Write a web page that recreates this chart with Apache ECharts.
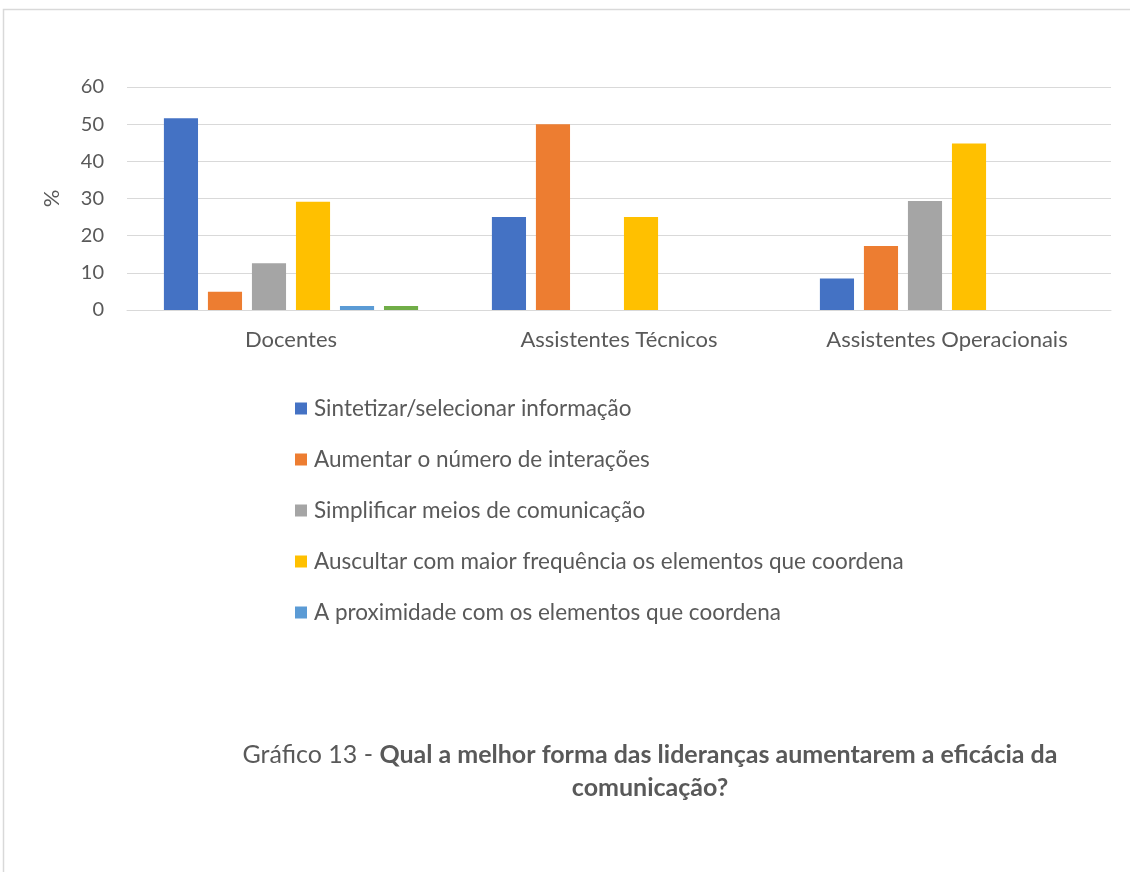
<!DOCTYPE html>
<html>
<head>
<meta charset="utf-8">
<script src="https://cdn.jsdelivr.net/npm/echarts@6/dist/echarts.min.js"></script>
<style>
html,body{margin:0;padding:0;background:#fff;}
#chart{width:1130px;height:872px;}
</style>
</head>
<body>
<div id="chart"></div>
<script>
const categories = ['Docentes', 'Assistentes Técnicos', 'Assistentes Operacionais'];
const seriesNames = [
  'Sintetizar/selecionar informação',
  'Aumentar o número de interações',
  'Simplificar meios de comunicação',
  'Auscultar com maior frequência os elementos que coordena',
  'A proximidade com os elementos que coordena',
  'Outro'
];
const sintetizar = [51.6, 25.0, 8.5];
const aumentar = [4.9, 50.0, 17.2];
const simplificar = [12.6, 0, 29.3];
const auscultar = [29.1, 25.0, 44.8];
const proximidade = [1.1, 0, 0];
const outro = [1.1, 0, 0];
const yTicks = [0, 10, 20, 30, 40, 50, 60];
const colors = ['#4472C4', '#ED7D31', '#A5A5A5', '#FFC000', '#5B9BD5', '#70AD47'];
const values = [sintetizar, aumentar, simplificar, auscultar, proximidade, outro];

const FONT = 'Lato, "Open Sans", sans-serif';
const chart = echarts.init(document.getElementById('chart'));
chart.setOption({
  animation: false,
  color: colors,
  textStyle: { fontFamily: FONT },
  grid: { left: 127, right: 19, top: 87, bottom: 562 },
  xAxis: {
    type: 'category',
    data: categories,
    axisLine: { lineStyle: { color: '#d9d9d9', width: 1 } },
    axisTick: { show: false },
    axisLabel: { color: '#595959', fontSize: 22, margin: 19, fontFamily: FONT }
  },
  yAxis: {
    type: 'value',
    min: yTicks[0], max: yTicks[yTicks.length - 1], interval: 10,
    name: '%', nameLocation: 'middle', nameRotate: 90, nameGap: 64,
    nameTextStyle: { color: '#595959', fontSize: 22, fontFamily: FONT },
    axisLine: { show: false }, axisTick: { show: false },
    axisLabel: { color: '#595959', fontSize: 20, margin: 23, fontFamily: FONT },
    splitLine: { lineStyle: { color: '#d9d9d9', width: 1 } }
  },
  legend: {
    data: seriesNames.slice(0, 5),
    orient: 'vertical',
    left: 295, top: 397, padding: 0,
    icon: 'rect', itemWidth: 12, itemHeight: 12, itemGap: 28,
    textStyle: { color: '#595959', fontSize: 22.5, lineHeight: 23, fontFamily: FONT, padding: [0, 0, 0, 2] }
  },
  series: seriesNames.map((n, i) => ({
    name: n, type: 'bar', data: values[i],
    barGap: '29%', barCategoryGap: '22.5%',
    itemStyle: { color: colors[i] }
  })),
  graphic: [
    {
      type: 'rect', silent: true,
      shape: { x: 3.5, y: 9.5, width: 1140, height: 900 },
      style: { fill: 'none', stroke: '#d9d9d9', lineWidth: 1.5 }
    },
    {
      type: 'text', silent: true,
      x: 650, y: 738,
      style: {
        text: '{n|Gráfico 13 - }{b|Qual a melhor forma das lideranças aumentarem a eficácia da}\n{b|comunicação?}',
        align: 'center', verticalAlign: 'top',
        fill: '#595959',
        rich: {
          n: { fontSize: 25, fontFamily: FONT, color: '#595959', lineHeight: 33 },
          b: { fontSize: 25, fontFamily: FONT, fontWeight: 'bold', color: '#595959', lineHeight: 33 }
        }
      }
    }
  ]
});
</script>
</body>
</html>
